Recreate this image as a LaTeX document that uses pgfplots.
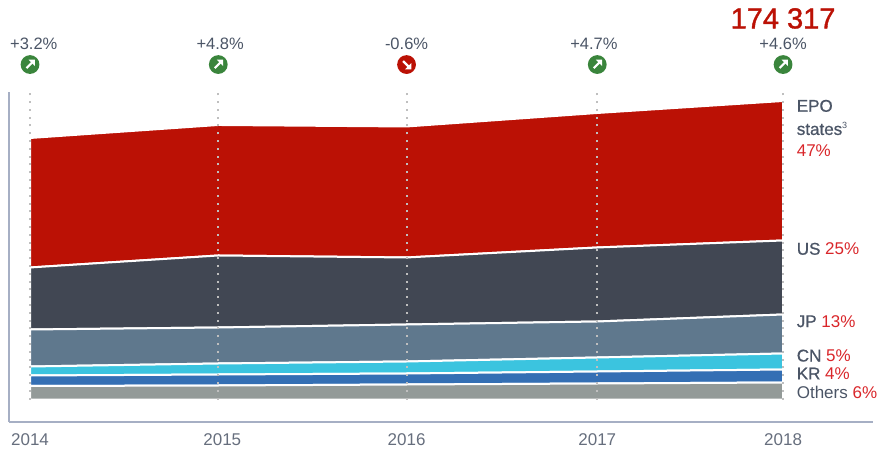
\documentclass[border=0pt]{standalone}
\usepackage{pgfplots}
\pgfplotsset{compat=1.18}
\usepackage{fontspec}
\setmainfont{Liberation Sans}
\newfontfamily\medf[FakeBold=0.8]{Liberation Sans}
\newfontfamily\bigf[FakeBold=1.2]{Liberation Sans}
\definecolor{cRed}{HTML}{BB1105}
\definecolor{cDark}{HTML}{414753}
\definecolor{cSlate}{HTML}{5F788D}
\definecolor{cCyan}{HTML}{3BC4DF}
\definecolor{cBlue}{HTML}{346FB4}
\definecolor{cGrey}{HTML}{939A98}
\definecolor{cAxis}{HTML}{A6AFC4}
\definecolor{cText}{HTML}{4B5566}
\definecolor{cLab}{HTML}{D9262A}
\definecolor{cGreen}{HTML}{3A853C}
\pgfdeclareplotmark{arrowup}{%
  \pgfsetfillcolor{cGreen}\pgfsetstrokecolor{cGreen}%
  \pgfpathcircle{\pgfpointorigin}{9.4pt}\pgfusepathqfill
  \pgfsetstrokecolor{white}\pgfsetlinewidth{2.2pt}\pgfsetfillcolor{white}%
  \pgfpathmoveto{\pgfpoint{-3.5pt}{-3.5pt}}\pgfpathlineto{\pgfpoint{3pt}{3pt}}\pgfusepathqstroke
  \pgfpathmoveto{\pgfpoint{4.8pt}{4.8pt}}\pgfpathlineto{\pgfpoint{-1.5pt}{4.8pt}}\pgfpathlineto{\pgfpoint{4.8pt}{-1.5pt}}\pgfpathclose\pgfusepathqfill}
\pgfdeclareplotmark{arrowdown}{%
  \pgfsetfillcolor{cRed}\pgfsetstrokecolor{cRed}%
  \pgfpathcircle{\pgfpointorigin}{9.4pt}\pgfusepathqfill
  \pgfsetstrokecolor{white}\pgfsetlinewidth{2.2pt}\pgfsetfillcolor{white}%
  \pgfpathmoveto{\pgfpoint{-3.5pt}{3.5pt}}\pgfpathlineto{\pgfpoint{3pt}{-3pt}}\pgfusepathqstroke
  \pgfpathmoveto{\pgfpoint{4.8pt}{-4.8pt}}\pgfpathlineto{\pgfpoint{-1.5pt}{-4.8pt}}\pgfpathlineto{\pgfpoint{4.8pt}{1.5pt}}\pgfpathclose\pgfusepathqfill}
\pgfplotsset{
  gl/.style={mark=none,draw=gray!50!white,line width=2pt,dash pattern=on 2pt off 5.8pt},
  geom/.style={at={(9pt,31pt)},anchor=south west,scale only axis,width=864pt,height=330pt,
    xmin=2013.8883,xmax=2018.4777,ymin=-13206,ymax=180485,clip=false}}
\begin{document}
\begin{tikzpicture}[x=1pt,y=1pt]
\useasboundingbox (0,0) rectangle (877,453);
\begin{axis}[
  geom,
  axis x line*=bottom,axis y line*=left,
  axis line style={cAxis,line width=1.6pt,-},
  xtick={2014,2015,2016,2017.013,2018},
  xticklabels={2014,\hspace{8pt}2015,2016,2017,2018},
  ytick=\empty,
  major tick length=0pt,
  tick label style={font=\fontsize{17}{17}\selectfont,text=cText!85!white},
  xticklabel style={yshift=-8pt},
  stack plots=y,
  every axis plot/.append style={line width=2pt,draw=white},
]
\addplot[fill=cGrey] coordinates {(2014,7925)(2015,8218)(2016,8805)(2017.013,9392)(2018,9979)} \closedcycle;
\addplot[fill=cBlue] coordinates {(2014,6164)(2015,6457)(2016,6457)(2017.013,7044)(2018,7631)} \closedcycle;
\addplot[fill=cCyan] coordinates {(2014,5283)(2015,6457)(2016,7044)(2017.013,8218)(2018,9392)} \closedcycle;
\addplot[fill=cSlate] coordinates {(2014,21719)(2015,21132)(2016,21719)(2017.013,21132)(2018,22893)} \closedcycle;
\addplot[fill=cDark] coordinates {(2014,36394)(2015,42264)(2016,39329)(2017.013,43438)(2018,43438)} \closedcycle;
\addplot[fill=cRed] coordinates {(2014,76016)(2015,76603)(2016,76897)(2017.013,78951)(2018,81886)} \closedcycle;
\end{axis}
\begin{axis}[geom,hide axis]
\addplot[gl] coordinates {(2014,0)(2014,180200)};
\addplot[gl] coordinates {(2015,0)(2015,180200)};
\addplot[gl] coordinates {(2016,0)(2016,180200)};
\addplot[gl] coordinates {(2017.013,0)(2017.013,180200)};
\addplot[gl] coordinates {(2018,0)(2018,180200)};
\addplot[only marks,mark=arrowup,draw=none] coordinates {(2014,196600)(2015,196600)(2017.013,196600)(2018,196600)};
\addplot[only marks,mark=arrowdown,draw=none] coordinates {(2016,196600)};
\tikzset{pct/.style={font=\fontsize{16.5}{16.5}\selectfont,text=cText,anchor=base}}
\node[pct] at (axis cs:2014.02,205200) {+3.2\%};
\node[pct] at (axis cs:2015.01,205200) {+4.8\%};
\node[pct] at (axis cs:2016,205200) {-0.6\%};
\node[pct] at (axis cs:2016.995,205200) {+4.7\%};
\node[pct] at (axis cs:2018,205200) {+4.6\%};
\node[font=\fontsize{29}{29}\selectfont\bigf,text=cRed,anchor=base] at (axis cs:2018,217800) {174 317};
\tikzset{lab/.style={font=\fontsize{17}{17}\selectfont,text=cText,anchor=base west,inner sep=0pt}}
\node[lab] at (axis cs:2018.0720,168900) {\medf EPO};
\node[lab] at (axis cs:2018.0720,155300) {\medf states\raisebox{6pt}{\fontsize{9}{9}\selectfont\rmfamily\addfontfeature{} 3}};
\node[lab,text=cLab] at (axis cs:2018.0720,142900) {47\%};
\node[lab] at (axis cs:2018.0720,85000) {{\medf US} \textcolor{cLab}{25\%}};
\node[lab] at (axis cs:2018.0720,42500) {{\medf JP} \textcolor{cLab}{13\%}};
\node[lab] at (axis cs:2018.0720,22300) {{\medf CN} \textcolor{cLab}{5\%}};
\node[lab] at (axis cs:2018.0720,11800) {{\medf KR} \textcolor{cLab}{4\%}};
\node[lab] at (axis cs:2018.0720,600) {Others \textcolor{cLab}{6\%}};
\end{axis}
\end{tikzpicture}
\end{document}
